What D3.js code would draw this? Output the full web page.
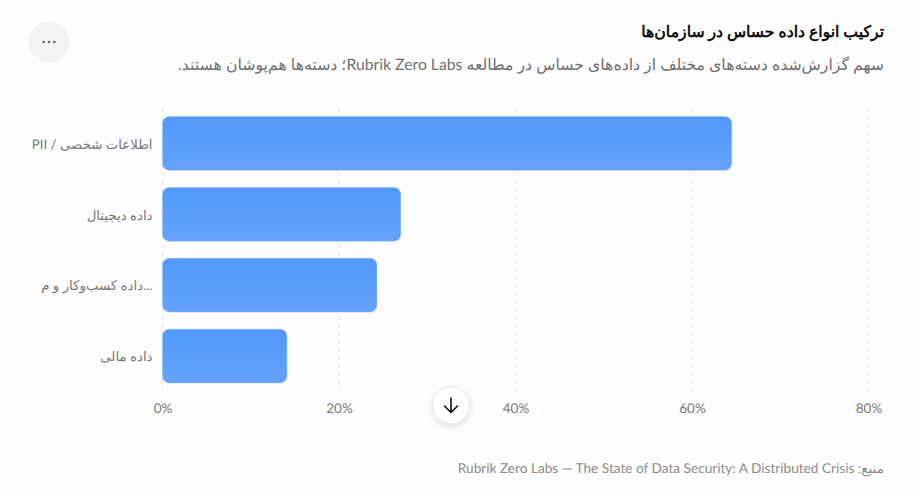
<!DOCTYPE html>
<html lang="fa">
<head>
<meta charset="utf-8">
<script src="https://cdn.jsdelivr.net/npm/d3@7"></script>
<style>
html,body{margin:0;padding:0;background:#fdfdfd;}
svg{display:block;font-family:"Lato","Noto Sans",sans-serif;text-rendering:geometricPrecision;}
</style>
</head>
<body>
<svg id="c" width="920" height="492"></svg>
<script>
const categories = ["اطلاعات شخصی / PII","داده دیجیتال","...داده کسب‌وکار و م","داده مالی"];
const values = [64.5,27,24.3,14.1];
const tickValues = [0,20,40,60,80];
const titleText = "ترکیب انواع داده حساس در سازمان‌ها";
const subtitleText = "سهم گزارش‌شده دسته‌های مختلف از داده‌های حساس در مطالعه Rubrik Zero Labs؛ دسته‌ها هم‌پوشان هستند.";
const sourceText = "منبع: Rubrik Zero Labs — The State of Data Security: A Distributed Crisis";

const svg = d3.select("#c");
svg.append("rect").attr("width",920).attr("height",492).attr("fill","#fdfdfd");
const defs = svg.append("defs");
const g = defs.append("linearGradient").attr("id","bar").attr("x1",0).attr("y1",0).attr("x2",0).attr("y2",1);
g.append("stop").attr("offset","0%").attr("stop-color","#5198fa");
g.append("stop").attr("offset","100%").attr("stop-color","#64a2fa");
const f = defs.append("filter").attr("id","sh").attr("x","-40%").attr("y","-40%").attr("width","180%").attr("height","180%");
f.append("feDropShadow").attr("dx",0).attr("dy",2).attr("stdDeviation",3).attr("flood-color","#000").attr("flood-opacity",0.13);

const x = d3.scaleLinear().domain([0,80]).range([162.5,868.5]);
const y = d3.scaleBand().domain(categories).range([108,391.5]).paddingInner(0.24).paddingOuter(0.12);

// grid
svg.append("g").selectAll("line").data(tickValues).join("line")
  .attr("x1",d=>x(d)).attr("x2",d=>x(d)).attr("y1",108).attr("y2",391)
  .attr("stroke","#e4e4e4").attr("stroke-dasharray","4 4");

// x axis
const xa = svg.append("g").attr("transform","translate(0,391)")
  .call(d3.axisBottom(x).tickValues(tickValues).tickFormat(d=>d+"%").tickSize(0).tickPadding(12));
xa.select(".domain").remove();
xa.selectAll("text").attr("fill","#777").attr("font-size",13.5).attr("font-family",'"Lato",sans-serif');

// y axis
const ya = svg.append("g").attr("transform","translate(162.5,1)")
  .call(d3.axisLeft(y).tickSize(0).tickPadding(10));
ya.select(".domain").remove();
ya.selectAll("text").attr("fill","#777").attr("font-size",13.3).attr("direction","rtl").attr("text-anchor","start")
  .attr("font-family",'"Lato",sans-serif');

// bars
svg.append("g").selectAll("rect").data(values).join("rect")
  .attr("x",x(0)).attr("y",(d,i)=>y(categories[i]))
  .attr("width",d=>x(d)-x(0)).attr("height",y.bandwidth())
  .attr("rx",7).attr("fill","url(#bar)").attr("stroke","#8ebbfc").attr("stroke-opacity",0.45);

// title block
svg.append("text").attr("x",884).attr("y",36.5).attr("direction","rtl").attr("text-anchor","start")
  .attr("font-size",15.7).attr("font-weight",600).attr("fill","#111").text(titleText);
svg.append("text").attr("x",884).attr("y",70).attr("direction","rtl").attr("text-anchor","start")
  .attr("font-size",15.75).attr("fill","#707070").text(subtitleText);
svg.append("text").attr("x",884).attr("y",473).attr("direction","rtl").attr("text-anchor","start")
  .attr("font-size",13.63).attr("fill","#8c8c8c").text(sourceText);

// menu button
svg.append("circle").attr("cx",49).attr("cy",42).attr("r",20.5).attr("fill","#f3f3f3");
svg.append("g").selectAll("circle").data([-1,0,1]).join("circle")
  .attr("cx",d=>49+d*5.3).attr("cy",42).attr("r",1.3).attr("fill","#666");

// scroll button
svg.append("circle").attr("cx",451).attr("cy",405.5).attr("r",18.5).attr("fill","#fff").attr("stroke","#e4e4e4").attr("filter","url(#sh)");
svg.append("path").attr("d","M451 398V412.5M444.5 406L451 412.5L457.5 406").attr("fill","none")
  .attr("stroke","#111").attr("stroke-width",1.6).attr("stroke-linecap","round").attr("stroke-linejoin","round");
</script>
</body>
</html>
